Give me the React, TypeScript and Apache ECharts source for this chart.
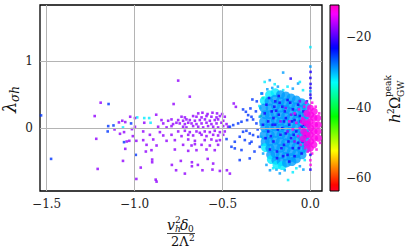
import React, { useEffect, useRef } from "react";
import * as echarts from "echarts";

// colour values (h^2 Omega_GW^peak)
const P = -17.5; // purple
const B = -25; // blue
const C = -32; // cyan-blue
const L = -29; // light blue
const D = -22; // dark blue
const M = -12.5; // magenta
const G = -40; // green

const xTicks = [-1.5, -1, -0.5, 0];
const yTicks = [0, 1];
const cbTicks = [-60, -40, -20];
const xRange = [-1.538, 0.066];
const yRange = [-0.94, 1.84];
const cRange = [-63.6, -10.9];

// sparse points on the left (x < -0.45)
const sparseLeft: number[][] = [
  [-1.193, 0.38, P], [-1.148, 0.36, B], [-1.227, 0.18, P], [-1.532, 0.19, B], [-1.025, 0.17, P],
  [-0.985, 0.16, C], [-1.07, 0.11, P], [-1.089, 0.085, P], [-1.053, 0.09, P], [-0.998, 0.15, P],
  [-1.15, 0.03, B], [-1.12, 0.04, B], [-1.066, 0.01, C], [-1.02, 0.07, B], [-0.998, 0.02, P],
  [-1.153, -0.05, B], [-1.114, -0.02, P], [-1.015, -0.015, P], [-1.06, -0.06, P], [-1.083, -0.085, P],
  [-1.01, -0.12, P], [-1.218, -0.16, P], [-1.045, -0.2, P], [-1.03, -0.19, P], [-1.06, -0.21, B],
  [-0.99, -0.19, P], [-0.993, -0.4, B], [-1.053, -0.31, P], [-1.066, -0.49, P], [-1.475, -0.46, B],
  [-1.21, -0.61, P], [-0.99, -0.76, P],
  [-0.752, 0.71, P], [-0.686, 0.47, P], [-0.778, 0.36, P], [-0.877, 0.2, P], [-0.917, 0.15, C],
  [-0.945, 0.15, C], [-0.909, 0.08, C], [-0.945, 0.08, P],
  [-0.638, 0.22, P], [-0.614, 0.23, P], [-0.585, 0.21, P], [-0.557, 0.23, P], [-0.531, 0.22, P], [-0.502, 0.21, P],
  [-0.733, 0.17, P], [-0.714, 0.16, P], [-0.667, 0.18, P], [-0.648, 0.17, P], [-0.619, 0.16, P],
  [-0.591, 0.18, P], [-0.563, 0.17, P], [-0.534, 0.16, P], [-0.515, 0.18, P], [-0.487, 0.17, P],
  [-0.847, 0.12, P], [-0.809, 0.11, P], [-0.79, 0.13, P], [-0.752, 0.12, P], [-0.724, 0.11, P],
  [-0.705, 0.13, P], [-0.686, 0.12, P], [-0.657, 0.11, P], [-0.629, 0.12, P], [-0.6, 0.13, P],
  [-0.572, 0.11, P], [-0.544, 0.12, P], [-0.525, 0.13, P], [-0.496, 0.11, P],
  [-0.837, 0.07, P], [-0.781, 0.06, P], [-0.762, 0.08, P], [-0.743, 0.07, P], [-0.714, 0.06, P],
  [-0.695, 0.08, P], [-0.676, 0.07, P], [-0.648, 0.06, P], [-0.619, 0.07, P], [-0.591, 0.08, P],
  [-0.563, 0.06, P], [-0.534, 0.07, P], [-0.506, 0.08, P], [-0.477, 0.06, P],
  [-0.866, 0.02, P], [-0.818, 0.01, P], [-0.79, 0.03, P], [-0.724, 0.02, P], [-0.705, 0.01, P],
  [-0.667, 0.03, P], [-0.638, 0.02, P], [-0.61, 0.01, P], [-0.582, 0.03, P], [-0.553, 0.02, P],
  [-0.525, 0.01, P], [-0.496, 0.03, P], [-0.468, 0.02, P],
  [-0.951, -0.05, P], [-0.856, -0.06, P], [-0.752, -0.05, P], [-0.714, -0.04, P], [-0.686, -0.06, P],
  [-0.648, -0.05, P], [-0.629, -0.07, P], [-0.601, -0.05, P], [-0.572, -0.06, P], [-0.544, -0.04, P],
  [-0.515, -0.06, P], [-0.487, -0.05, P],
  [-0.913, -0.1, P], [-0.837, -0.11, P], [-0.79, -0.1, P], [-0.733, -0.12, P], [-0.695, -0.1, P],
  [-0.667, -0.11, P], [-0.619, -0.1, P], [-0.591, -0.12, P], [-0.553, -0.1, P], [-0.525, -0.11, P],
  [-0.496, -0.1, P],
  [-0.951, -0.18, P], [-0.894, -0.17, P], [-0.818, -0.19, P], [-0.771, -0.18, P], [-0.695, -0.17, P],
  [-0.657, -0.19, P], [-0.601, -0.18, P], [-0.563, -0.17, P], [-0.534, -0.19, P], [-0.515, -0.18, P],
  [-0.932, -0.25, P], [-0.875, -0.26, P], [-0.724, -0.25, P], [-0.676, -0.26, P], [-0.657, -0.24, P],
  [-0.619, -0.25, P], [-0.572, -0.26, P], [-0.525, -0.25, P],
  [-0.904, -0.33, P], [-0.771, -0.32, P], [-0.695, -0.34, P], [-0.648, -0.33, P], [-0.591, -0.32, P],
  [-0.544, -0.33, P],
  [-0.875, -0.8, P], [-0.88, -0.77, P], [-0.965, -0.59, P], [-0.9, -0.47, P], [-0.9, -0.51, P],
  [-0.936, -0.35, P], [-0.788, -0.55, P], [-0.764, -0.63, P], [-0.714, -0.68, P], [-0.737, -0.49, P],
  [-0.674, -0.51, P], [-0.674, -0.57, P], [-0.64, -0.55, P], [-0.614, -0.63, P], [-0.584, -0.46, P],
  [-0.557, -0.62, P], [-0.515, -0.64, P], [-0.475, -0.63, P], [-0.458, -0.68, P], [-0.553, -0.53, P],
];

// blue points between -0.5 and -0.27
const midBlue: number[][] = [
  [-0.436, 0.368, P], [-0.424, 0.318, P], [-0.383, 0.279, B], [-0.367, 0.244, B], [-0.341, 0.294, B],
  [-0.33, 0.428, B], [-0.275, 0.517, B], [-0.354, 0.194, B], [-0.335, 0.169, B], [-0.326, 0.129, B],
  [-0.36, 0.119, B], [-0.392, 0.095, B], [-0.411, 0.07, B], [-0.439, 0.045, B], [-0.458, 0.02, B],
  [-0.383, -0.055, B], [-0.364, -0.04, B], [-0.345, -0.08, B], [-0.326, -0.104, B], [-0.402, -0.129, B],
  [-0.373, -0.179, B], [-0.335, -0.204, B], [-0.43, -0.204, B], [-0.477, -0.164, B], [-0.449, -0.279, B],
  [-0.392, -0.328, B], [-0.345, -0.229, B], [-0.43, -0.303, B], [-0.402, -0.478, B], [-0.345, -0.453, B],
  [-0.307, 0.07, B], [-0.297, -0.13, B], [-0.288, -0.28, B], [-0.31, 0.25, B], [-0.29, 0.33, C],
  [-0.282, 0.18, G], [-0.3, -0.02, B], [-0.318, -0.35, B], [-0.305, 0.4, B],
];

// dense light-blue core
const blobBase: number[][] = [
  [-0.262, 0.41, C], [-0.265, 0.3, L], [-0.258, 0.2, L], [-0.266, 0.1, L], [-0.26, 0.0, L], [-0.263, -0.1, L], [-0.257, -0.2, L], [-0.255, -0.29, C],
  [-0.232, 0.5, C], [-0.235, 0.4, L], [-0.229, 0.3, L], [-0.234, 0.2, L], [-0.23, 0.1, L], [-0.233, 0.0, L], [-0.228, -0.1, L], [-0.232, -0.2, L], [-0.23, -0.3, L], [-0.226, -0.4, L], [-0.222, -0.47, C],
  [-0.2, 0.53, C], [-0.203, 0.43, L], [-0.198, 0.33, L], [-0.201, 0.22, L], [-0.199, 0.12, L], [-0.202, 0.02, L], [-0.197, -0.08, L], [-0.2, -0.18, L], [-0.198, -0.28, L], [-0.201, -0.38, L], [-0.196, -0.48, L], [-0.19, -0.55, C],
  [-0.17, 0.5, L], [-0.172, 0.4, L], [-0.168, 0.3, L], [-0.171, 0.2, L], [-0.169, 0.1, L], [-0.17, 0.0, L], [-0.167, -0.1, L], [-0.171, -0.2, L], [-0.168, -0.3, L], [-0.17, -0.4, L], [-0.166, -0.5, L], [-0.16, -0.56, C],
  [-0.14, 0.48, L], [-0.142, 0.38, L], [-0.138, 0.28, L], [-0.141, 0.18, L], [-0.139, 0.08, L], [-0.14, -0.02, L], [-0.137, -0.12, L], [-0.141, -0.22, L], [-0.138, -0.32, L], [-0.14, -0.42, L], [-0.136, -0.52, L],
  [-0.11, 0.45, L], [-0.112, 0.35, L], [-0.108, 0.25, L], [-0.111, 0.15, L], [-0.109, 0.05, L], [-0.11, -0.05, L], [-0.107, -0.15, L], [-0.111, -0.25, L], [-0.108, -0.35, L], [-0.11, -0.44, L], [-0.105, -0.5, L],
  [-0.08, 0.42, L], [-0.082, 0.32, L], [-0.078, 0.22, L], [-0.081, 0.12, L], [-0.079, 0.02, L], [-0.08, -0.08, L], [-0.077, -0.18, L], [-0.081, -0.28, L], [-0.078, -0.38, L], [-0.08, -0.46, L],
  [-0.05, 0.38, L], [-0.052, 0.28, L], [-0.048, 0.18, L], [-0.051, 0.08, L], [-0.049, -0.02, L], [-0.05, -0.12, L], [-0.047, -0.22, L], [-0.051, -0.32, L], [-0.048, -0.4, L],
  [-0.025, 0.32, L], [-0.024, 0.2, L], [-0.026, 0.1, L], [-0.023, 0.0, L], [-0.025, -0.1, L], [-0.024, -0.2, L], [-0.022, -0.3, L],
];

// scattered points around the core's edge
const blobEdge: number[][] = [
  [-0.155, 0.83, L], [-0.26, 0.69, C], [-0.231, 0.716, L], [-0.203, 0.656, C], [-0.217, 0.6, L],
  [-0.279, 0.517, L], [-0.07, 0.666, L], [-0.06, 0.69, C], [-0.112, 0.74, D], [-0.155, 0.567, C],
  [-0.1, 0.59, L], [-0.042, 0.567, C], [-0.185, 0.62, L], [-0.13, 0.62, C], [-0.245, 0.58, L],
  [-0.25, -0.55, L], [-0.212, -0.6, C], [-0.174, -0.677, L], [-0.127, -0.776, C], [-0.23, -0.63, L],
  [-0.08, -0.6, C], [-0.06, -0.57, L], [-0.032, -0.478, C], [-0.193, -0.62, L], [-0.146, -0.63, L],
  [-0.1, -0.66, C], [-0.04, -0.62, L],
  [-0.288, 0.169, L], [-0.279, -0.13, C], [-0.269, -0.38, L], [-0.285, 0.3, C], [-0.282, 0.05, L],
  [-0.275, -0.25, L], [-0.27, 0.45, G],
];

// dark blue dots inside the core
const blobDark: number[][] = [
  [-0.25, 0.35, D], [-0.24, 0.1, D], [-0.24, -0.05, D], [-0.22, 0.25, D], [-0.21, -0.2, D],
  [-0.2, 0.4, D], [-0.2, 0.05, D], [-0.19, -0.35, D], [-0.18, 0.2, D], [-0.17, -0.1, D],
  [-0.16, 0.32, D], [-0.16, 0.0, D], [-0.15, -0.25, D], [-0.14, 0.15, D], [-0.13, -0.4, D],
  [-0.13, 0.42, D], [-0.12, 0.05, D], [-0.11, -0.15, D], [-0.1, 0.28, D], [-0.1, -0.3, D],
  [-0.09, 0.12, D], [-0.08, -0.05, D], [-0.07, 0.35, D], [-0.07, -0.22, D], [-0.06, 0.18, D],
  [-0.05, -0.38, D], [-0.05, 0.02, D], [-0.04, 0.25, D], [-0.03, -0.12, D], [-0.02, 0.4, D],
  [-0.23, -0.32, D], [-0.26, 0.22, D], [-0.18, 0.48, D], [-0.15, 0.1, D], [-0.12, -0.5, D],
  [-0.09, -0.42, D], [-0.21, 0.15, D], [-0.14, -0.08, D], [-0.19, -0.45, D], [-0.27, 0.05, D],
  [-0.235, 0.45, D], [-0.225, -0.12, D], [-0.205, 0.32, D], [-0.185, -0.02, D], [-0.175, 0.38, D],
  [-0.165, -0.3, D], [-0.145, 0.25, D], [-0.125, -0.2, D], [-0.115, 0.38, D], [-0.095, -0.1, D],
  [-0.085, 0.2, D], [-0.065, -0.3, D], [-0.055, 0.1, D], [-0.045, -0.2, D], [-0.035, 0.05, D],
  [-0.255, -0.15, D], [-0.215, 0.05, D], [-0.195, 0.26, D], [-0.155, -0.42, D], [-0.105, 0.1, D],
];

// magenta core near zero
const magentaBase: number[][] = [
  [0.0, 0.3, M], [0.002, 0.2, M], [-0.002, 0.1, M], [0.001, 0.0, M], [-0.001, -0.1, M], [0.002, -0.2, M], [0.0, -0.3, M],
  [0.022, 0.25, M], [0.02, 0.15, M], [0.024, 0.05, M], [0.021, -0.05, M], [0.023, -0.15, M], [0.02, -0.25, M],
  [0.042, 0.15, M], [0.045, 0.05, M], [0.043, -0.05, M], [0.046, -0.15, M],
  [-0.02, 0.22, M], [-0.018, 0.06, M], [-0.022, -0.1, M], [-0.019, -0.24, M],
  [-0.04, 0.1, M], [-0.038, -0.05, M], [-0.042, -0.16, M],
];

// magenta and purple dots scattered in the core
const magentaDots: number[][] = [
  [-0.12, 0.1, M], [-0.1, -0.02, M], [-0.09, 0.22, M], [-0.08, 0.08, M], [-0.07, -0.12, M],
  [-0.065, 0.28, M], [-0.06, 0.0, M], [-0.055, -0.25, M], [-0.045, 0.15, M], [-0.035, 0.32, M],
  [-0.03, -0.3, M], [-0.025, 0.38, M], [-0.015, -0.35, M], [0.01, 0.38, M], [0.03, 0.32, M],
  [0.05, 0.22, M], [0.055, -0.22, M], [0.035, -0.32, M], [0.01, -0.38, M], [-0.14, 0.3, P],
  [-0.13, -0.05, P], [-0.11, 0.2, P], [-0.09, -0.2, P], [-0.06, 0.4, P], [-0.17, 0.1, P],
];

// points on the x = 0 line
const zeroLine: number[][] = [
  [0.0, 1.21, C], [0.0, 0.92, L], [0.001, 0.84, D], [0.0, 0.75, D], [0.001, 0.66, D], [0.0, 0.6, D],
  [0.0, 0.55, L], [0.0, 0.5, D], [0.001, 0.45, D], [0.0, -0.4, D], [0.0, -0.48, M], [0.001, -0.55, M],
  [0.0, -0.62, D],
];

// gist_rainbow colormap segments
const SEG: Record<string, number[][]> = {
  r: [[0, 1], [0.03, 1], [0.215, 1], [0.4, 0], [0.586, 0], [0.77, 0], [0.954, 1], [1, 1]],
  g: [[0, 0], [0.03, 0], [0.215, 1], [0.4, 1], [0.586, 1], [0.77, 0], [0.954, 0], [1, 0]],
  b: [[0, 0.16], [0.03, 0], [0.215, 0], [0.4, 0], [0.586, 1], [0.77, 1], [0.954, 1], [1, 0.75]],
};
function seg(s: number[][], t: number) {
  for (let i = 1; i < s.length; i++) {
    if (t <= s[i][0]) {
      const f = (t - s[i - 1][0]) / (s[i][0] - s[i - 1][0] || 1);
      return s[i - 1][1] + f * (s[i][1] - s[i - 1][1]);
    }
  }
  return s[s.length - 1][1];
}
function rainbow(t: number) {
  const r = Math.round(seg(SEG.r, t) * 255);
  const g = Math.round(seg(SEG.g, t) * 255);
  const b = Math.round(seg(SEG.b, t) * 255);
  return `rgb(${r},${g},${b})`;
}
const N = 60;
const cmap = Array.from({ length: N + 1 }, (_, i) => rainbow(i / N));

const SERIF = "'DejaVu Serif', 'Liberation Serif', serif";
const minus = (v: number, d: number) => (v < 0 ? "\u2212" : "") + Math.abs(v).toFixed(d);

export default function App() {
  const ref = useRef<HTMLDivElement>(null);
  useEffect(() => {
    if (!ref.current) return;
    const chart = echarts.init(ref.current, undefined, { renderer: "svg" });
    const small = [...sparseLeft, ...midBlue, ...blobEdge];
    const option: any = {
      animation: false,
      backgroundColor: "#fff",
      grid: [
        { left: 40, top: 5, width: 282, height: 186, show: true, borderColor: "#000", borderWidth: 1.3, backgroundColor: "transparent" },
        { left: 330, top: 5, width: 9, height: 186, show: false },
      ],
      xAxis: [
        {
          type: "value", gridIndex: 0, min: xRange[0], max: xRange[1],
          axisLine: { show: false }, axisTick: { show: false }, splitLine: { show: false },
          axisLabel: { customValues: xTicks, formatter: (v: number) => minus(v, 1), fontFamily: SERIF, fontSize: 12, color: "#222", margin: 7 },
        },
        { type: "value", gridIndex: 1, min: 0, max: 1, show: false },
      ],
      yAxis: [
        {
          type: "value", gridIndex: 0, min: yRange[0], max: yRange[1],
          axisLine: { show: false }, axisTick: { show: false }, splitLine: { show: false },
          axisLabel: { customValues: yTicks, formatter: (v: number) => minus(v, 0), fontFamily: SERIF, fontSize: 12, color: "#222", margin: 7 },
        },
        {
          type: "value", gridIndex: 1, position: "right", min: cRange[0], max: cRange[1],
          axisLine: { show: false }, splitLine: { show: false },
          axisTick: { show: true, customValues: cbTicks, length: 4, inside: false, lineStyle: { color: "#000", width: 1 } },
          axisLabel: { customValues: cbTicks, formatter: (v: number) => minus(v, 0), fontFamily: SERIF, fontSize: 12, color: "#222", margin: 7 },
        },
      ],
      visualMap: {
        type: "continuous", show: false, min: cRange[0], max: cRange[1], dimension: 2,
        seriesIndex: [1, 2, 3, 4, 5], inRange: { color: cmap },
      },
      series: [
        {
          type: "scatter", xAxisIndex: 0, yAxisIndex: 0, data: [], z: 1,
          markLine: {
            silent: true, symbol: "none", label: { show: false },
            lineStyle: { color: "#b4b4b4", width: 1, type: "solid" },
            data: [...xTicks.map((v) => ({ xAxis: v })), ...yTicks.map((v) => ({ yAxis: v }))],
          },
        },
        { type: "scatter", data: small, symbol: "rect", symbolSize: 2.6, z: 2 },
        { type: "scatter", data: blobBase, symbol: "circle", symbolSize: 9, z: 3 },
        { type: "scatter", data: blobDark, symbol: "rect", symbolSize: 2.6, z: 4 },
        { type: "scatter", data: magentaBase, symbol: "circle", symbolSize: 7, z: 5 },
        { type: "scatter", data: [...magentaDots, ...zeroLine], symbol: "rect", symbolSize: 2.6, z: 6 },
      ],
      graphic: [
        {
          type: "rect", shape: { x: 330, y: 5, width: 9, height: 186 }, z: 10,
          style: {
            fill: new echarts.graphic.LinearGradient(0, 1, 0, 0, cmap.map((c, i) => ({ offset: i / N, color: c }))),
            stroke: "#000", lineWidth: 1,
          },
        },
        // y-axis title lambda_{sigma h}
        {
          type: "group", x: 18, y: 113, rotation: Math.PI / 2,
          children: [
            { type: "text", x: 0, y: 0, style: { text: "\u03bb", font: `italic 18px ${SERIF}`, fill: "#111", verticalAlign: "bottom" } },
            { type: "text", x: 11, y: 3, style: { text: "\u03c3h", font: `italic 12px ${SERIF}`, fill: "#111", verticalAlign: "bottom" } },
          ],
        },
        // x-axis title fraction
        { type: "text", x: 167, y: 232, style: { text: "v", font: `italic 14px ${SERIF}`, fill: "#111", verticalAlign: "bottom" } },
        { type: "text", x: 175, y: 215, style: { text: "2", font: `9px ${SERIF}`, fill: "#111", verticalAlign: "top" } },
        { type: "text", x: 175, y: 224, style: { text: "h", font: `italic 9px ${SERIF}`, fill: "#111", verticalAlign: "top" } },
        { type: "text", x: 180, y: 232, style: { text: "\u03b4", font: `italic 14px ${SERIF}`, fill: "#111", verticalAlign: "bottom" } },
        { type: "text", x: 188, y: 224, style: { text: "0", font: `9px ${SERIF}`, fill: "#111", verticalAlign: "top" } },
        { type: "line", shape: { x1: 167, y1: 233.5, x2: 195, y2: 233.5 }, style: { stroke: "#111", lineWidth: 0.8 } },
        { type: "text", x: 171, y: 235, style: { text: "2\u039b", font: `13px ${SERIF}`, fill: "#111", verticalAlign: "top" } },
        { type: "text", x: 189, y: 233, style: { text: "2", font: `9px ${SERIF}`, fill: "#111", verticalAlign: "top" } },
        // colorbar title h^2 Omega^peak_GW
        {
          type: "group", x: 402, y: 123, rotation: Math.PI / 2,
          children: [
            { type: "text", x: 0, y: 0, style: { text: "h", font: `italic 15px ${SERIF}`, fill: "#111", verticalAlign: "bottom" } },
            { type: "text", x: 9, y: -7, style: { text: "2", font: `9px ${SERIF}`, fill: "#111", verticalAlign: "bottom" } },
            { type: "text", x: 14, y: 0, style: { text: "\u03a9", font: `15px ${SERIF}`, fill: "#111", verticalAlign: "bottom" } },
            { type: "text", x: 26, y: -10, style: { text: "peak", font: `9px ${SERIF}`, fill: "#111", verticalAlign: "bottom" } },
            { type: "text", x: 26, y: 3, style: { text: "GW", font: `9px ${SERIF}`, fill: "#111", verticalAlign: "bottom" } },
          ],
        },
      ],
    };
    chart.setOption(option);
    return () => chart.dispose();
  }, []);
  return <div ref={ref} style={{ position: "fixed", left: 0, top: 0, width: 405, height: 249 }} />;
}
